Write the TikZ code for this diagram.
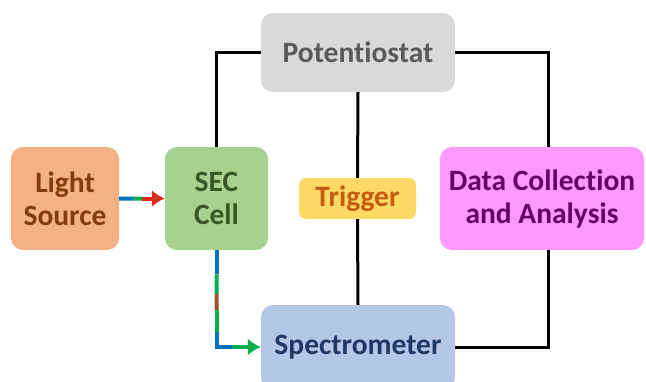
\documentclass[tikz,border=0pt]{standalone}
\usepackage{fontspec}
\setmainfont{Carlito}[RawFeature=-liga]
\usetikzlibrary{arrows.meta,calc}
\definecolor{lightfill}{HTML}{F4B183}
\definecolor{lighttext}{HTML}{843C0C}
\definecolor{secfill}{HTML}{A9D18E}
\definecolor{sectext}{HTML}{385723}
\definecolor{potfill}{HTML}{D9D9D9}
\definecolor{pottext}{HTML}{595959}
\definecolor{trigfill}{HTML}{FFD966}
\definecolor{trigtext}{HTML}{C55A11}
\definecolor{datafill}{HTML}{FF99FF}
\definecolor{datatext}{HTML}{660066}
\definecolor{specfill}{HTML}{B4C7E7}
\definecolor{spectext}{HTML}{1F3864}
\definecolor{rayblue}{HTML}{0070C0}
\definecolor{raygreen}{HTML}{00B050}
\definecolor{rayred}{HTML}{E0281C}
\definecolor{raybrown}{HTML}{A0522D}

\begin{document}
\begin{tikzpicture}[x=1pt,y=-1pt,
    box/.style={rounded corners=12pt, inner sep=0pt, align=center,
                font=\fontsize{29.5}{33}\selectfont\bfseries},
    link/.style={line width=3pt},
    ray/.style={line width=4pt}]
    \useasboundingbox (0,0) rectangle (646,381);
    \clip (0,0) rectangle (646,381);
                     % boxes
    \node[box, fill=lightfill, text=lighttext, minimum width=108, minimum height=103] (light) at (65,198.5) {Light\\Source};
    \node[box, fill=secfill, text=sectext, minimum width=103, minimum height=103] (sec) at (216.5,198.5) {SEC\\Cell};
    \node[box, fill=potfill, text=pottext, minimum width=194, minimum height=79] (pot) at (358,52.5) {Potentiostat};
    \node[box, fill=trigfill, text=trigtext, minimum width=117, minimum height=41, rounded corners=7pt] (trig) at (357.5,198.5) {Trigger};
    \node[box, fill=datafill, text=datatext, minimum width=204, minimum height=103] (data) at (542,198.5) {Data Collection\\and Analysis};
    \node[box, fill=specfill, text=spectext, minimum width=194, minimum height=84] (spec) at (358,347) {Spectrometer};
                     % wiring
    \draw[link] (pot.west) -| (sec.north);
    \draw[link] (pot.east) -| ($(data.north)+(6,0)$);
    \draw[link] (pot.south) -- (trig.north);
    \draw[link] (trig.south) -- (spec.north);
    \draw[link] ($(data.south)+(6,0)$) |- (spec.east);
                     % light path, source to cell
    \draw[ray, rayblue] (light.east) -- ($(light.east)!0.3!(sec.west)$);
    \draw[ray, raygreen] ($(light.east)!0.3!(sec.west)$) -- ($(light.east)!0.5!(sec.west)$);
    \draw[ray, rayred, -{Latex[length=13pt,width=17pt,fill=raybrown]}] ($(light.east)!0.5!(sec.west)$) -- (sec.west);
                     % light path, cell to spectrometer
    \coordinate (bend) at (sec.south |- spec.west);
    \draw[ray, rayblue] (sec.south) -- ($(sec.south)!0.25!(bend)$);
    \draw[ray, raygreen] ($(sec.south)!0.25!(bend)$) -- ($(sec.south)!0.45!(bend)$);
    \draw[ray, raybrown] ($(sec.south)!0.45!(bend)$) -- ($(sec.south)!0.62!(bend)$);
    \draw[ray, raygreen] ($(sec.south)!0.62!(bend)$) -- ($(sec.south)!0.85!(bend)$);
    \draw[ray, rayblue] ($(sec.south)!0.85!(bend)$) -- (bend) -- ($(bend)!0.35!(spec.west)$);
    \draw[ray, raygreen, -{Latex[length=13pt,width=17pt]}] ($(bend)!0.35!(spec.west)$) -- (spec.west);
\end{tikzpicture}
\end{document}
